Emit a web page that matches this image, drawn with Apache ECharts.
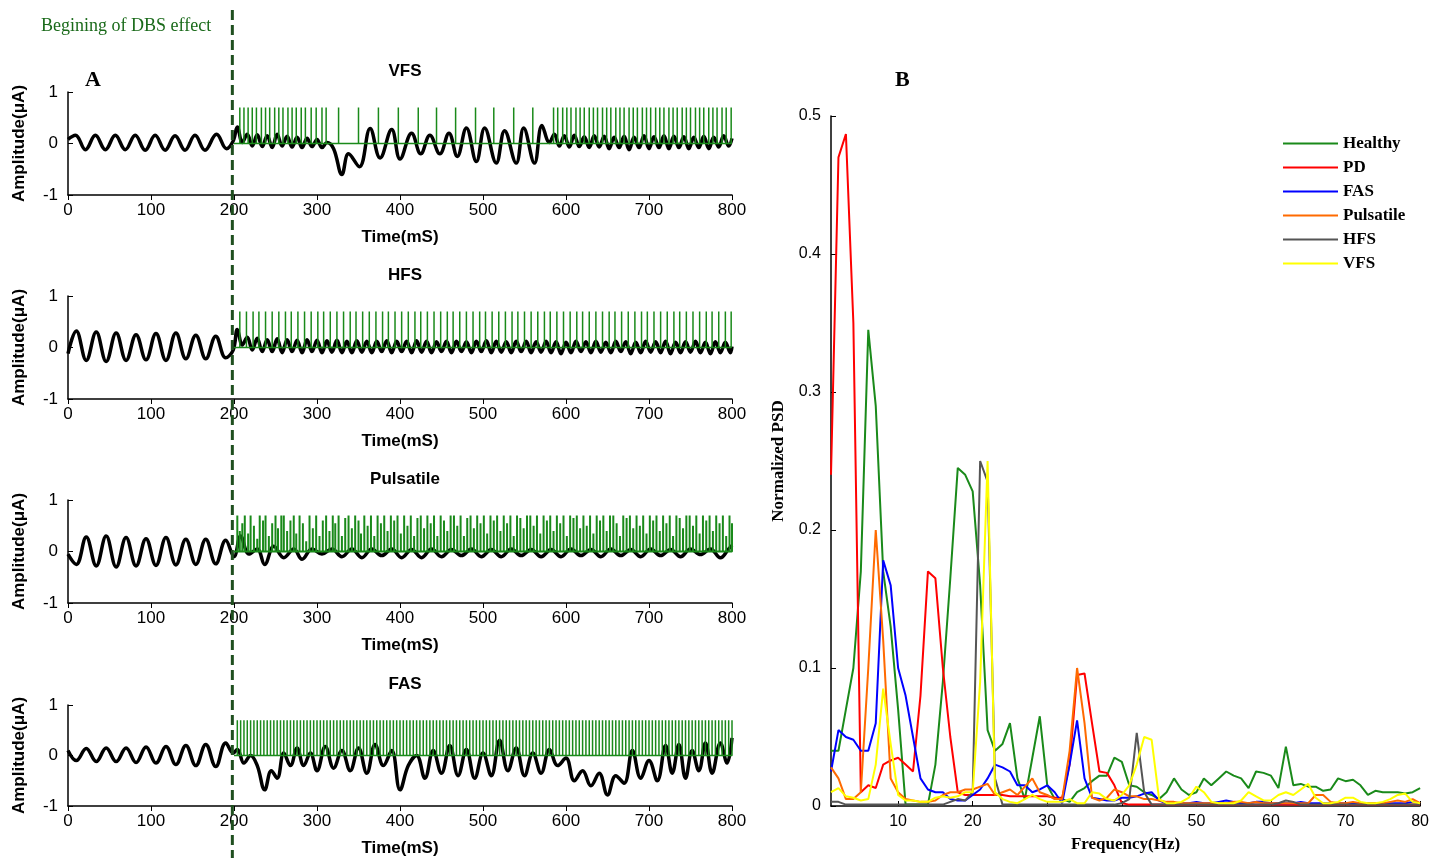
<!DOCTYPE html>
<html>
<head>
<meta charset="utf-8">
<script src="https://cdn.jsdelivr.net/npm/echarts@6/dist/echarts.min.js"></script>
</head>
<body style="margin:0;background:#fff">
<div id="container" style="width:1432px;height:858px"></div>
<script>
// ---------- panel A: membrane signals [t(ms), amplitude] ----------
const pre1 = [[0,0.08],[9,0.16],[21,-0.12],[33,0.16],[45,-0.12],[57,0.16],[69,-0.12],[81,0.16],[93,-0.13],[105,0.16],[117,-0.13],[129,0.15],[141,-0.13],[153,0.16],[165,-0.13],[179,0.18],[191,-0.1]];
const vfsSignal = pre1.concat([[199,0.05],[204,0.32],[210,0.02],[216,0.18],[222,-0.05],[228,0.17],[234,-0.06],[240,0.15],[246,-0.08],[252,0.18],[258,-0.05],[264,0.14],[270,-0.07],[276,0.12],[282,-0.08],[288,0.1],[294,-0.06],[300,0.08],[306,-0.08],[312,0.02],[320,-0.1],[330,-0.6],[338,-0.2],[351,-0.45],[364,0.29],[376,-0.28],[390,0.27],[400,-0.3],[414,0.2],[425,-0.2],[436,0.16],[448,-0.2],[459,0.2],[469,-0.25],[480,0.3],[492,-0.35],[502,0.3],[516,-0.38],[526,0.25],[540,-0.38],[549,0.3],[562,-0.38],[571,0.35],[580,0.02],[586,0.18],[592,-0.05],[598,0.15],[604,-0.07],[610,0.16],[616,-0.06],[622,0.13],[628,-0.08],[634,0.15],[640,-0.07],[646,0.14],[652,-0.1],[658,0.12],[664,-0.08],[670,0.14],[676,-0.12],[682,0.12],[688,-0.08],[694,0.15],[700,-0.1],[706,0.13],[712,-0.08],[718,0.15],[724,-0.1],[730,0.14],[736,-0.08],[742,0.13],[748,-0.1],[754,0.12],[760,-0.08],[766,0.14],[772,-0.1],[778,0.12],[784,-0.07],[790,0.15],[796,-0.05],[800,0.1]]);
const hfsSignal = [[0,-0.12],[10,0.32],[22,-0.25],[34,0.3],[46,-0.27],[58,0.28],[70,-0.25],[82,0.25],[94,-0.24],[106,0.27],[118,-0.25],[130,0.28],[142,-0.22],[154,0.24],[166,-0.22],[178,0.22],[190,-0.2],[199,-0.05],[204,0.35],[210,0.05],[216,0.2],[222,-0.05],[228,0.18],[234,-0.08],[240,0.15],[246,-0.08],[252,0.17],[258,-0.1],[264,0.15],[270,-0.08],[276,0.14],[282,-0.1],[288,0.15],[294,-0.08],[300,0.14],[306,-0.1],[312,0.13],[318,-0.09],[324,0.14],[330,-0.1],[336,0.12],[342,-0.1],[348,0.13],[354,-0.09],[360,0.12],[366,-0.1],[372,0.12],[378,-0.08],[384,0.13],[390,-0.1],[396,0.12],[402,-0.08],[408,0.12],[414,-0.1],[420,0.13],[426,-0.09],[432,0.12],[438,-0.1],[444,0.11],[450,-0.08],[456,0.12],[462,-0.1],[468,0.12],[474,-0.08],[480,0.11],[486,-0.1],[492,0.12],[498,-0.08],[504,0.13],[510,-0.1],[516,0.12],[522,-0.09],[528,0.11],[534,-0.1],[540,0.12],[546,-0.08],[552,0.12],[558,-0.1],[564,0.11],[570,-0.09],[576,0.12],[582,-0.1],[588,0.11],[594,-0.12],[600,0.1],[606,-0.1],[612,0.12],[618,-0.08],[624,0.11],[630,-0.1],[636,0.12],[642,-0.09],[648,0.1],[654,-0.1],[660,0.12],[666,-0.08],[672,0.11],[678,-0.12],[684,0.1],[690,-0.1],[696,0.12],[702,-0.09],[708,0.11],[714,-0.1],[720,0.12],[726,-0.12],[732,0.1],[738,-0.1],[744,0.11],[750,-0.09],[756,0.12],[762,-0.1],[768,0.1],[774,-0.12],[780,0.11],[786,-0.1],[792,0.1],[798,-0.1],[800,0.02]];
const pulsSignal = [[0,-0.05],[10,-0.25],[22,0.28],[34,-0.28],[46,0.3],[58,-0.3],[70,0.27],[82,-0.28],[94,0.25],[106,-0.27],[118,0.27],[130,-0.26],[142,0.24],[154,-0.25],[166,0.24],[178,-0.24],[190,0.22],[200,-0.1],[208,0.3],[218,-0.05],[228,0.05],[237,-0.25],[248,0.1],[260,-0.12],[272,0.05],[282,-0.15],[294,0.05],[306,-0.05],[318,0.05],[330,-0.1],[342,0.05],[354,-0.12],[366,0.05],[378,-0.08],[390,0.05],[402,-0.12],[414,0.04],[426,-0.12],[438,0.05],[450,-0.1],[462,0.04],[474,-0.08],[486,0.05],[498,-0.1],[510,0.04],[522,-0.1],[534,0.05],[546,-0.08],[558,0.04],[570,-0.1],[582,0.04],[594,-0.1],[606,0.05],[618,-0.08],[630,0.04],[642,-0.1],[654,0.05],[666,-0.08],[678,0.04],[690,-0.1],[702,0.05],[714,-0.08],[726,0.04],[738,-0.1],[750,0.05],[762,-0.06],[774,0.05],[786,-0.12],[796,0.05],[800,0.12]];
const fasSignal = [[0,0.1],[10,-0.1],[22,0.14],[34,-0.12],[46,0.15],[58,-0.12],[70,0.15],[82,-0.14],[94,0.17],[106,-0.15],[118,0.18],[130,-0.18],[142,0.2],[154,-0.2],[166,0.22],[178,-0.22],[190,0.25],[199,0.05],[204,0.12],[212,-0.15],[220,0.0],[228,-0.2],[237,-0.68],[245,-0.3],[252,-0.45],[260,0.05],[268,-0.2],[276,0.15],[284,-0.2],[292,0.05],[300,-0.3],[310,0.18],[320,-0.25],[330,0.1],[340,-0.3],[350,0.15],[360,-0.35],[370,0.22],[380,-0.2],[390,0.1],[400,-0.68],[410,-0.2],[420,0.0],[430,-0.45],[440,0.1],[450,-0.35],[460,0.2],[470,-0.4],[480,0.12],[490,-0.45],[500,0.05],[510,-0.4],[520,0.3],[530,-0.3],[540,0.15],[550,-0.4],[560,0.05],[570,-0.35],[580,0.12],[590,-0.2],[600,-0.05],[610,-0.5],[620,-0.3],[630,-0.6],[640,-0.35],[650,-0.78],[660,-0.4],[670,-0.55],[680,0.1],[690,-0.45],[700,-0.1],[710,-0.5],[720,0.2],[728,-0.35],[736,0.22],[744,-0.45],[752,0.1],[760,-0.3],[768,0.25],[776,-0.35],[786,0.25],[794,-0.15],[800,0.35]];

// stimulation pulse times (ms)
const vfsPulses = [207,212,217,222,227,233,238,243,249,254,259,265,270,275,281,286,293,299,306,311,326,350,374,398,422,444,467,491,513,537,560,585,590,596,601,606,612,617,622,628,633,638,644,649,654,660,665,670,676,681,686,692,697,702,708,713,718,724,729,734,740,745,750,756,761,766,772,777,782,788,793,799];
const hfsPulses = [207,215,223,230,238,246,254,262,269,277,285,293,301,308,316,324,332,340,347,355,363,371,379,386,394,402,410,418,425,433,441,449,457,464,472,480,488,496,503,511,519,527,535,542,550,558,566,574,581,589,597,605,613,620,628,636,644,652,659,667,675,683,691,698,706,714,722,730,737,745,753,761,769,776,784,792,799];
const fasPulses = [204,208,212,216,220,224,228,232,236,240,244,248,252,256,260,264,268,272,276,280,284,288,292,296,300,304,308,312,316,320,324,328,332,336,340,344,348,352,356,360,364,368,372,376,380,384,388,392,396,400,404,408,412,416,420,424,428,432,436,440,444,448,452,456,460,464,468,472,476,480,484,488,492,496,500,504,508,512,516,520,524,528,532,536,540,544,548,552,556,560,564,568,572,576,580,584,588,592,596,600,604,608,612,616,620,624,628,632,636,640,644,648,652,656,660,664,668,672,676,680,684,688,692,696,700,704,708,712,716,720,724,728,732,736,740,744,748,752,756,760,764,768,772,776,780,784,788,792,796,800];
// pulsatile: [time, height]
const pulsPulses = [[204,0.7],[207,0.4],[210,0.55],[213,0.7],[217,0.35],[220,0.7],[224,0.5],[228,0.25],[231,0.7],[235,0.6],[238,0.7],[242,0.3],[246,0.55],[250,0.7],[253,0.45],[257,0.7],[260,0.7],[264,0.4],[268,0.6],[272,0.7],[275,0.35],[279,0.7],[283,0.55],[287,0.2],[291,0.7],[295,0.45],[299,0.7],[303,0.3],[307,0.6],[311,0.7],[315,0.4],[319,0.7],[322,0.55],[326,0.7],[330,0.3],[334,0.65],[338,0.7],[342,0.45],[346,0.7],[350,0.6],[353,0.35],[357,0.7],[361,0.5],[365,0.7],[369,0.3],[373,0.7],[377,0.55],[381,0.7],[385,0.4],[389,0.7],[393,0.6],[397,0.7],[401,0.35],[405,0.7],[409,0.5],[413,0.7],[417,0.3],[421,0.65],[425,0.7],[429,0.45],[433,0.7],[437,0.55],[441,0.7],[445,0.3],[449,0.7],[453,0.6],[457,0.4],[461,0.7],[465,0.7],[469,0.5],[473,0.7],[477,0.3],[481,0.65],[485,0.7],[489,0.45],[493,0.7],[497,0.55],[501,0.7],[505,0.35],[509,0.7],[513,0.6],[517,0.7],[521,0.4],[525,0.7],[529,0.55],[533,0.7],[537,0.3],[541,0.7],[545,0.65],[549,0.45],[553,0.7],[557,0.7],[561,0.5],[565,0.7],[569,0.35],[573,0.7],[577,0.6],[581,0.7],[585,0.4],[589,0.7],[593,0.55],[597,0.7],[601,0.3],[605,0.7],[609,0.65],[613,0.7],[617,0.45],[621,0.7],[625,0.5],[629,0.7],[633,0.35],[637,0.7],[641,0.6],[645,0.7],[649,0.4],[653,0.7],[657,0.7],[661,0.55],[665,0.3],[669,0.7],[673,0.65],[677,0.7],[681,0.45],[685,0.7],[689,0.5],[693,0.7],[697,0.35],[701,0.7],[705,0.6],[709,0.7],[713,0.4],[717,0.7],[721,0.55],[725,0.7],[729,0.3],[733,0.7],[737,0.65],[741,0.45],[745,0.7],[749,0.7],[753,0.5],[757,0.7],[761,0.35],[765,0.7],[769,0.6],[773,0.7],[777,0.4],[781,0.7],[785,0.55],[789,0.7],[793,0.3],[797,0.7],[800,0.55]];

const panelTitles = ['VFS', 'HFS', 'Pulsatile', 'FAS'];
const pulseWidths = [1.5, 1.5, 2, 1.5];

// ---------- panel B: normalized PSD, 1..80 Hz ----------
const freqs = Array.from({length: 80}, (_, i) => i + 1);
const freqTicks = [10, 20, 30, 40, 50, 60, 70, 80];
const psdHealthy = [0.04,0.04,0.07,0.1,0.17,0.345,0.29,0.17,0.13,0.07, 0.001,0.001,0.001,0.001,0.03,0.09,0.165,0.245,0.24,0.228, 0.16,0.055,0.04,0.045,0.06,0.02,0.005,0.035,0.065,0.015, 0.005,0.005,0.003,0.01,0.013,0.018,0.022,0.022,0.035,0.032, 0.015,0.014,0.01,0.008,0.005,0.01,0.02,0.012,0.008,0.01, 0.02,0.015,0.02,0.025,0.022,0.02,0.013,0.025,0.024,0.022, 0.013,0.043,0.015,0.016,0.014,0.014,0.011,0.012,0.02,0.018, 0.019,0.015,0.008,0.011,0.01,0.01,0.01,0.009,0.01,0.013];
const psdPD = [0.24,0.47,0.487,0.35,0.01,0.015,0.013,0.03,0.033,0.035, 0.03,0.025,0.08,0.17,0.165,0.1,0.05,0.01,0.008,0.008, 0.008,0.008,0.008,0.008,0.007,0.007,0.007,0.007,0.007,0.007, 0.006,0.006,0.03,0.095,0.096,0.06,0.025,0.024,0.015,0.002, 0.001,0.001,0.001,0.001,0.001,0.001,0.001,0.001,0.001,0.001, 0.001,0.001,0.001,0.001,0.001,0.001,0.001,0.001,0.001,0.001, 0.001,0.001,0.001,0.001,0.001,0.001,0.001,0.001,0.001,0.001, 0.001,0.001,0.001,0.001,0.001,0.001,0.001,0.001,0.001,0.001];
const psdFAS = [0.025,0.055,0.05,0.048,0.04,0.04,0.06,0.178,0.16,0.1, 0.08,0.05,0.02,0.012,0.01,0.01,0.005,0.004,0.004,0.008, 0.012,0.02,0.03,0.028,0.025,0.015,0.015,0.01,0.012,0.015, 0.01,0.002,0.03,0.062,0.02,0.006,0.005,0.004,0.004,0.006, 0.006,0.007,0.009,0.01,0.004,0.002,0.002,0.002,0.002,0.003, 0.002,0.002,0.003,0.004,0.003,0.002,0.002,0.003,0.003,0.002, 0.002,0.002,0.002,0.003,0.002,0.002,0.002,0.002,0.002,0.002, 0.002,0.002,0.002,0.002,0.002,0.002,0.002,0.002,0.003,0.002];
const psdPulsatile = [0.028,0.02,0.005,0.005,0.01,0.1,0.2,0.12,0.02,0.01, 0.005,0.004,0.003,0.003,0.004,0.008,0.01,0.01,0.012,0.012, 0.014,0.016,0.008,0.01,0.012,0.008,0.014,0.02,0.01,0.008, 0.005,0.005,0.04,0.1,0.06,0.006,0.004,0.006,0.012,0.01, 0.007,0.007,0.005,0.005,0.004,0.003,0.003,0.002,0.002,0.002, 0.002,0.002,0.002,0.002,0.003,0.003,0.002,0.003,0.002,0.002, 0.002,0.002,0.002,0.002,0.002,0.008,0.008,0.003,0.002,0.002, 0.003,0.002,0.002,0.002,0.002,0.003,0.004,0.003,0.005,0.002];
const psdHFS = [0.003,0.003,0.001,0.001,0.001,0.001,0.001,0.001,0.001,0.001, 0.001,0.001,0.001,0.001,0.001,0.001,0.003,0.005,0.004,0.01, 0.25,0.235,0.02,0.001,0.001,0.001,0.001,0.001,0.001,0.001, 0.001,0.001,0.001,0.001,0.001,0.001,0.001,0.001,0.001,0.002, 0.005,0.053,0.01,0.001,0.001,0.001,0.001,0.001,0.001,0.001, 0.001,0.001,0.001,0.001,0.001,0.001,0.001,0.001,0.001,0.001, 0.002,0.004,0.003,0.001,0.001,0.001,0.001,0.001,0.001,0.001, 0.001,0.001,0.001,0.001,0.001,0.001,0.001,0.001,0.001,0.001];
const psdVFS = [0.01,0.013,0.007,0.006,0.004,0.005,0.03,0.085,0.045,0.008, 0.004,0.004,0.003,0.003,0.006,0.007,0.006,0.007,0.01,0.01, 0.09,0.25,0.01,0.005,0.003,0.002,0.005,0.008,0.005,0.003, 0.003,0.003,0.005,0.002,0.002,0.01,0.009,0.005,0.004,0.008, 0.015,0.03,0.05,0.048,0.005,0.002,0.002,0.003,0.006,0.014, 0.01,0.003,0.002,0.002,0.002,0.004,0.01,0.007,0.004,0.004, 0.008,0.01,0.008,0.012,0.016,0.006,0.002,0.002,0.003,0.006, 0.006,0.003,0.002,0.002,0.003,0.005,0.008,0.009,0.003,0.002];

const psdNames = ['Healthy', 'PD', 'FAS', 'Pulsatile', 'HFS', 'VFS'];
const psdColors = ['#1a8a1a', '#ff0000', '#0000ff', '#ff6a00', '#555555', '#ffff00'];
const psdData = [psdHealthy, psdPD, psdFAS, psdPulsatile, psdHFS, psdVFS];

const signals = [vfsSignal, hfsSignal, pulsSignal, fasSignal];
const pulseTrains = [
  vfsPulses.map(t => [t, 0.7]),
  hfsPulses.map(t => [t, 0.7]),
  pulsPulses,
  fasPulses.map(t => [t, 0.7])
];

function spikeLine(pulses) {
  const out = [[200, 0]];
  pulses.forEach(p => { out.push([p[0], 0], [p[0], p[1]], [p[0], 0]); });
  return out;
}

const gridTops = [92, 296, 500, 705];
const grid = [], xAxis = [], yAxis = [], series = [], title = [];
gridTops.forEach((top, i) => {
  grid.push({left: 68, width: 664, top: top, height: 103});
  xAxis.push({
    type: 'value', gridIndex: i, min: 0, max: 800, interval: 100,
    name: 'Time(mS)', nameLocation: 'middle', nameGap: 34,
    nameTextStyle: {fontFamily: 'Liberation Sans', fontWeight: 'bold', fontSize: 17, color: '#000'},
    axisLine: {onZero: false, lineStyle: {color: '#000', width: 1.5}},
    axisTick: {length: 5, lineStyle: {color: '#000'}},
    axisLabel: {fontFamily: 'Liberation Sans', fontSize: 17, color: '#000', margin: 7},
    splitLine: {show: false}
  });
  yAxis.push({
    type: 'value', gridIndex: i, min: -1, max: 1, interval: 1,
    name: 'Amplitude(\u03bcA)', nameLocation: 'middle', nameGap: 40,
    nameTextStyle: {fontFamily: 'Liberation Sans', fontWeight: 'bold', fontSize: 17, color: '#000'},
    axisLine: {show: true, onZero: false, lineStyle: {color: '#000', width: 1.5}},
    axisTick: {inside: true, length: 5, lineStyle: {color: '#000'}},
    axisLabel: {fontFamily: 'Liberation Sans', fontSize: 17, color: '#000', margin: 10},
    splitLine: {show: false}
  });
  title.push({
    text: panelTitles[i], left: 400, top: top - 34, textAlign: 'center',
    textStyle: {fontFamily: 'Liberation Sans', fontWeight: 'bold', fontSize: 17, color: '#000'}
  });
  series.push({
    type: 'line', xAxisIndex: i, yAxisIndex: i, data: signals[i],
    smooth: 0.4, showSymbol: false, lineStyle: {color: '#000', width: 3.5}, z: 2
  });
  series.push({
    type: 'line', xAxisIndex: i, yAxisIndex: i, data: spikeLine(pulseTrains[i]),
    showSymbol: false, lineStyle: {color: '#1a8a1a', width: pulseWidths[i]}, z: 3
  });
});

// PSD panel
grid.push({left: 831, right: 10, top: 116, bottom: 50});
xAxis.push({
  type: 'value', gridIndex: 4, min: 1, max: 80,
  name: 'Frequency(Hz)', nameLocation: 'middle', nameGap: 30,
  nameTextStyle: {fontFamily: 'Liberation Serif', fontWeight: 'bold', fontSize: 17, color: '#000'},
  axisLine: {onZero: false, lineStyle: {color: '#000', width: 1.5}},
  axisTick: {inside: true, length: 5, customValues: freqTicks, lineStyle: {color: '#000'}},
  axisLabel: {fontFamily: 'Liberation Sans', fontSize: 16, color: '#000', customValues: freqTicks},
  splitLine: {show: false}
});
yAxis.push({
  type: 'value', gridIndex: 4, min: 0, max: 0.5, interval: 0.1,
  name: 'Normalized PSD', nameLocation: 'middle', nameGap: 44,
  nameTextStyle: {fontFamily: 'Liberation Serif', fontWeight: 'bold', fontSize: 17, color: '#000'},
  axisLine: {show: true, onZero: false, lineStyle: {color: '#000', width: 1.5}},
  axisTick: {inside: true, length: 5, lineStyle: {color: '#000'}},
  axisLabel: {fontFamily: 'Liberation Sans', fontSize: 16, color: '#000', margin: 10},
  splitLine: {show: false}
});
psdNames.forEach((name, k) => {
  series.push({
    name: name, type: 'line', xAxisIndex: 4, yAxisIndex: 4,
    data: freqs.map((f, j) => [f, psdData[k][j]]),
    showSymbol: false, lineStyle: {color: psdColors[k], width: 2}, itemStyle: {color: psdColors[k]}
  });
});

title.push(
  {text: 'A', left: 80, top: 64, textStyle: {fontFamily: 'Liberation Serif', fontWeight: 'bold', fontSize: 22, color: '#000'}},
  {text: 'B', left: 890, top: 64, textStyle: {fontFamily: 'Liberation Serif', fontWeight: 'bold', fontSize: 22, color: '#000'}},
  {text: 'Begining of DBS effect', left: 36, top: 12, textStyle: {fontFamily: 'Liberation Serif', fontWeight: 'normal', fontSize: 18, color: '#1a6a1a'}}
);

const chart = echarts.init(document.getElementById('container'));
chart.setOption({
  animation: false,
  title: title,
  grid: grid, xAxis: xAxis, yAxis: yAxis, series: series,
  legend: {
    data: psdNames, orient: 'vertical', left: 1278, top: 130, itemGap: 7,
    itemWidth: 55, itemHeight: 18, icon: 'path://M0,9L55,9L55,11L0,11Z',
    textStyle: {fontFamily: 'Liberation Serif', fontWeight: 'bold', fontSize: 17, color: '#000'}
  }
});

// dashed marker of DBS onset across panel A
const onset = 198;
const xp = chart.convertToPixel({gridIndex: 0}, [onset, 0])[0];
chart.setOption({
  graphic: [{
    type: 'line', shape: {x1: xp, y1: 10, x2: xp, y2: 858},
    style: {stroke: '#1f4f1f', lineWidth: 3, lineDash: [10, 5]}, z: 10
  }]
});
</script>
</body>
</html>
